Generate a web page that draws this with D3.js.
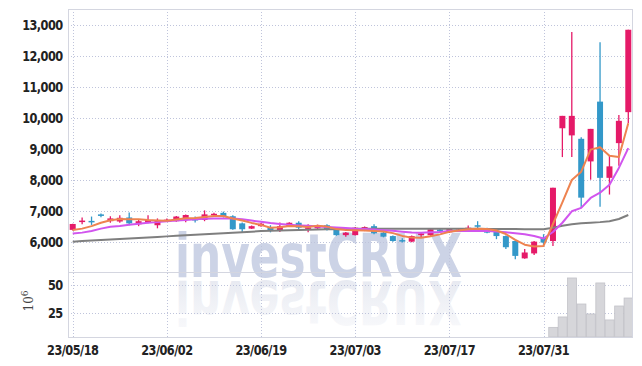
<!DOCTYPE html>
<html><head><meta charset="utf-8">
<script src="https://cdn.jsdelivr.net/npm/d3@7/dist/d3.min.js"></script>
<style>
body{margin:0;background:#fff;}
svg{display:block;}
.lbl{font-family:"DejaVu Sans Condensed","Liberation Sans Narrow",sans-serif;font-weight:bold;font-size:14px;letter-spacing:-0.6px;fill:#222;}
</style>
</head><body>
<svg id="chart" width="642" height="366"></svg>
<script>
const dates = ["23/05/18","23/05/19","23/05/22","23/05/23","23/05/24","23/05/25","23/05/26","23/05/30","23/05/31","23/06/01",
"23/06/02","23/06/05","23/06/07","23/06/08","23/06/09","23/06/12","23/06/13","23/06/14","23/06/15","23/06/16",
"23/06/19","23/06/20","23/06/21","23/06/22","23/06/23","23/06/26","23/06/27","23/06/28","23/06/29","23/06/30",
"23/07/03","23/07/04","23/07/05","23/07/06","23/07/07","23/07/10","23/07/11","23/07/12","23/07/13","23/07/14",
"23/07/17","23/07/18","23/07/19","23/07/20","23/07/21","23/07/24","23/07/25","23/07/26","23/07/27","23/07/28",
"23/07/31","23/08/01","23/08/02","23/08/03","23/08/04","23/08/07","23/08/08","23/08/09","23/08/10","23/08/11"];

const opens = [6400,6670,6690,6900,6680,6670,6800,6580,6630,6550, 6710,6680,6760,6750,6720,6870,6950,6840,6610,6440,
6520,6490,6370,6510,6630,6460,6450,6550,6400,6230, 6230,6380,6520,6310,6200,6070,6020,6260,6230,6410,
6320,6390,6370,6550,6450,6340,6200,6040,5480,5640, 6150,6040,9680,9450,9340,8610,10540,8080,9200,10200];
const highs = [6600,6800,6830,6930,6840,6870,6960,6740,6870,6770, 6770,6850,6900,6830,7030,6950,6990,6870,6640,6540,
6620,6550,6640,6650,6680,6580,6570,6580,6420,6330, 6490,6510,6580,6330,6220,6130,6220,6330,6440,6430,
6460,6440,6540,6680,6470,6360,6220,6060,5780,6040, 6260,7760,10080,12790,9390,9660,12460,8790,10110,12860];
const lows = [6380,6580,6560,6810,6630,6630,6550,6520,6610,6450, 6680,6660,6650,6640,6680,6860,6800,6400,6320,6430,
6500,6320,6330,6490,6420,6320,6430,6380,6210,6180, 6220,6360,6260,6160,6020,5990,6000,6150,6210,6330,
6300,6360,6350,6420,6290,6100,5780,5450,5470,5590, 5910,5880,8750,8750,7110,8020,7150,7540,8470,9840];
const closes = [6590,6700,6660,6850,6770,6790,6610,6680,6720,6720, 6730,6830,6880,6730,6900,6920,6840,6420,6420,6520,
6600,6370,6520,6630,6470,6480,6550,6400,6230,6310, 6470,6490,6290,6180,6040,6030,6200,6280,6420,6350,
6440,6410,6470,6500,6310,6200,5840,5560,5670,6020, 5990,7760,10080,10080,7440,9660,8080,8450,9920,12860];

// volume in millions of shares
const volumes = [0.8,0.6,0.5,0.7,0.5,0.4,0.6,0.5,0.4,0.5, 0.4,0.5,0.6,0.4,0.7,0.5,0.5,0.8,0.6,0.4,
0.5,0.5,0.4,0.5,0.5,0.4,0.4,0.5,0.6,0.4, 0.5,0.4,0.5,0.5,0.6,0.4,0.5,0.4,0.5,0.4,
0.4,0.4,0.5,0.6,0.5,0.6,0.9,1.2,0.8,0.9, 0.7,12,21.4,56.6,33.1,24.1,52.1,18.7,31.3,38.5];

const ma5 = [6395,6440,6520,6630,6710,6750,6740,6740,6715,6705, 6695,6735,6775,6780,6815,6850,6850,6765,6700,6625,
6560,6470,6485,6525,6520,6495,6530,6505,6425,6395, 6390,6380,6360,6345,6295,6205,6150,6145,6195,6255,
6340,6380,6420,6435,6425,6380,6265,6080,5920,5860, 5880,6590,7290,8010,8280,8990,9070,8790,8750,9840];
const ma10 = [6279,6311,6363,6440,6500,6525,6565,6600,6630,6650, 6680,6700,6720,6740,6755,6765,6770,6765,6740,6700,
6660,6620,6590,6565,6545,6530,6510,6495,6480,6460, 6440,6430,6410,6390,6370,6340,6315,6310,6320,6330,
6360,6365,6365,6365,6360,6345,6320,6290,6260,6200, 6120,6330,6630,7000,7110,7430,7600,7860,8400,9040];
const ma60 = [6020,6037,6054,6071,6088,6105,6122,6139,6156,6173, 6190,6207,6224,6241,6258,6275,6292,6309,6326,6343,
6360,6370,6380,6390,6398,6405,6412,6418,6424,6430, 6435,6438,6440,6440,6440,6440,6440,6440,6440,6440,
6440,6438,6436,6434,6432,6430,6428,6425,6422,6420, 6420,6470,6530,6580,6610,6630,6650,6680,6750,6880];

const xTickLabels = ["23/05/18","23/06/02","23/06/19","23/07/03","23/07/17","23/07/31"];
const priceTicks = [6000,7000,8000,9000,10000,11000,12000,13000];
const volumeTicks = [25,50];

const L = 68, R = 632, T = 9, MID = 272, B = 337;
const svg = d3.select("#chart");

const x = d3.scaleBand().domain(dates).range([L, R + 1]).padding(0);
const cx = d => x(d) + x.bandwidth() / 2;
const y = d3.scaleLinear().domain([5040, 13530]).range([MID, T]);
const yv = d3.scaleLinear().domain([3.3, 62]).range([B, MID]);

const rows = dates.map((d, i) => ({d, o: opens[i], h: highs[i], l: lows[i], c: closes[i], v: volumes[i]}));

// clip paths
const defs = svg.append("defs");
defs.append("clipPath").attr("id", "cp").append("rect").attr("x", L).attr("y", T).attr("width", R - L).attr("height", MID - T);
defs.append("clipPath").attr("id", "cv").append("rect").attr("x", L).attr("y", MID).attr("width", R - L).attr("height", B - MID);
const grad = defs.append("linearGradient").attr("id", "fade").attr("x1", 0).attr("y1", 0).attr("x2", 0).attr("y2", 1);
grad.append("stop").attr("offset", "0").attr("stop-color", "#eceef4").attr("stop-opacity", 0.3);
grad.append("stop").attr("offset", "1").attr("stop-color", "#e2e5ee").attr("stop-opacity", 1);

// watermark (main text plus a mirrored copy of the same element)
const wm = svg.append("g").attr("font-family", "DejaVu Sans, sans-serif").attr("font-weight", "bold");
wm.append("g").attr("fill", "#ccd3e6")
  .append("text").attr("id", "wmt").attr("x", 175).attr("y", 277).attr("font-size", 60).attr("textLength", 287)
  .attr("lengthAdjust", "spacingAndGlyphs").text("investCRUX");
wm.append("use").attr("href", "#wmt").attr("fill", "url(#fade)")
  .attr("transform", "translate(0,558) scale(1,-1)");

// grid
const grid = svg.append("g").attr("stroke", "#bfc4db").attr("stroke-dasharray", "1,2").attr("stroke-width", 1);
priceTicks.forEach(t => grid.append("line").attr("x1", L).attr("x2", R).attr("y1", Math.round(y(t)) + 0.5).attr("y2", Math.round(y(t)) + 0.5));
volumeTicks.forEach(t => grid.append("line").attr("x1", L).attr("x2", R).attr("y1", Math.round(yv(t)) + 0.5).attr("y2", Math.round(yv(t)) + 0.5));
xTickLabels.forEach(t => grid.append("line").attr("x1", Math.round(cx(t)) + 0.5).attr("x2", Math.round(cx(t)) + 0.5).attr("y1", T).attr("y2", B));

// frame
const fr = svg.append("g").attr("stroke", "#d4d6e0").attr("fill", "none");
fr.append("rect").attr("x", L + 0.5).attr("y", T + 0.5).attr("width", R - L).attr("height", B - T);
fr.append("line").attr("x1", L).attr("x2", R).attr("y1", MID + 0.5).attr("y2", MID + 0.5);

// volume bars
svg.append("g").attr("clip-path", "url(#cv)").selectAll("rect").data(rows).join("rect")
  .attr("x", r => x(r.d) + 0.5).attr("width", x.bandwidth() - 0.5)
  .attr("y", r => yv(r.v)).attr("height", r => Math.max(0, B - yv(r.v)))
  .attr("fill", "#d6d6da").attr("stroke", "#c2c2c8").attr("stroke-width", 0.8);

// candles
const up = "#e51a68", down = "#3398c9";
const cg = svg.append("g").attr("clip-path", "url(#cp)");
const bw = 6;
const cs = cg.selectAll("g").data(rows).join("g");
cs.append("line").attr("x1", r => cx(r.d)).attr("x2", r => cx(r.d))
  .attr("y1", r => y(r.h)).attr("y2", r => y(r.l))
  .attr("stroke", r => r.c >= r.o ? up : down).attr("stroke-width", 1.3);
cs.append("rect").attr("x", r => cx(r.d) - bw / 2).attr("width", bw)
  .attr("y", r => y(Math.max(r.o, r.c)))
  .attr("height", r => Math.max(1.5, Math.abs(y(r.o) - y(r.c))))
  .attr("fill", r => r.c >= r.o ? up : down);

// moving averages
const lineGen = arr => d3.line().x((v, i) => cx(dates[i])).y(v => y(v))(arr);
const lg = svg.append("g").attr("clip-path", "url(#cp)").attr("fill", "none").attr("stroke-width", 2).attr("stroke-linejoin", "round");
lg.append("path").attr("d", lineGen(ma60)).attr("stroke", "#7f7f7f");
lg.append("path").attr("d", lineGen(ma10)).attr("stroke", "#d155ee");
lg.append("path").attr("d", lineGen(ma5)).attr("stroke", "#ee8350");

// axes
const ya = svg.append("g").attr("transform", `translate(${L},0)`)
  .call(d3.axisLeft(y).tickValues(priceTicks).tickFormat(d3.format(",")).tickSize(0).tickPadding(6));
const yva = svg.append("g").attr("transform", `translate(${L},0)`)
  .call(d3.axisLeft(yv).tickValues(volumeTicks).tickSize(0).tickPadding(6));
const xa = svg.append("g").attr("transform", `translate(0,${B})`)
  .call(d3.axisBottom(x).tickValues(xTickLabels).tickSize(0).tickPadding(8));
[ya, yva, xa].forEach(a => {
  a.select(".domain").remove();
  a.selectAll("text").attr("class", "lbl").attr("font-family", null).attr("font-size", null).attr("fill", null)
    .attr("transform", "scale(0.9,1)");
});

// unit label
svg.append("text").attr("transform", "translate(33,301) rotate(-90)").attr("text-anchor", "middle")
  .attr("font-family", "DejaVu Serif, serif").attr("font-size", 12).attr("fill", "#444")
  .html('10<tspan dy="-5" font-size="9">6</tspan>');
</script>
</body></html>
